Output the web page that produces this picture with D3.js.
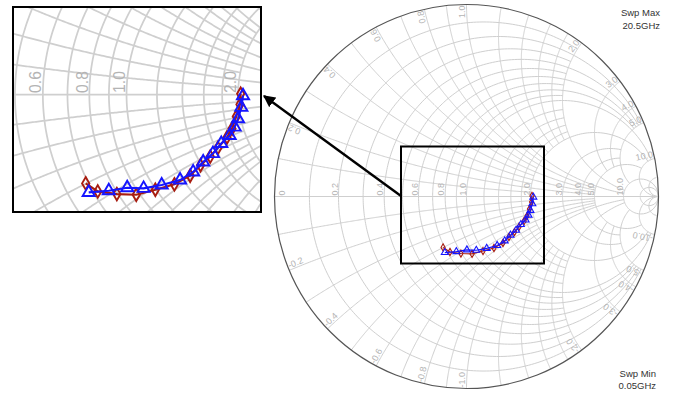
<!DOCTYPE html>
<html>
<head>
<meta charset="utf-8">
<script src="https://cdn.jsdelivr.net/npm/d3@7"></script>
<style>
  body { margin: 0; background: #fff; }
  text { font-family: "Liberation Sans", Arial, sans-serif; }
</style>
</head>
<body>
<svg id="chart" width="684" height="394"></svg>
<script>
// grid lines: [value, limit of the other coordinate]
const resistanceGrid = [[0.1, 2], [0.2, 5], [0.3, 2], [0.4, 5], [0.5, 2], [0.6, 5], [0.7, 2], [0.8, 5], [0.9, 2],
    [1, 10], [1.2, 2], [1.4, 2], [1.6, 2], [1.8, 2], [2, 10], [3, 5], [4, 5], [5, 10], [10, Infinity], [20, Infinity]];
const reactanceGrid = [[0.1, 2], [0.2, 5], [0.3, 2], [0.4, 5], [0.5, 2], [0.6, 5], [0.7, 2], [0.8, 5], [0.9, 2],
    [1, 10], [1.2, 2], [1.4, 2], [1.6, 2], [1.8, 2], [2, 10], [3, 5], [4, 5], [5, 10], [10, Infinity], [20, Infinity]];
const resistanceLabels = [0, 0.2, 0.4, 0.6, 0.8, 1, 2, 3, 4, 5, 10];
const reactanceLabels = [0.2, 0.4, 0.6, 0.8, 1, 2, 3, 4, 5, 10];

// reflection coefficient of the two traces
const blueRe = [-0.113, -0.053, 0.002, 0.051, 0.105, 0.160, 0.199, 0.229, 0.258, 0.283, 0.308, 0.323, 0.333, 0.343, 0.348];
const blueIm = [-0.292, -0.287, -0.278, -0.280, -0.270, -0.255, -0.231, -0.201, -0.176, -0.146, -0.122, -0.097, -0.072, -0.038, -0.003];
const redRe = [-0.122, -0.086, -0.029, 0.029, 0.086, 0.143, 0.190, 0.221, 0.250, 0.273, 0.300, 0.315, 0.328, 0.339, 0.341];
const redIm = [-0.265, -0.289, -0.297, -0.299, -0.284, -0.268, -0.242, -0.211, -0.185, -0.159, -0.128, -0.102, -0.065, -0.029, 0.003];

const sweepMax = ["Swp Max", "20.5GHz"];
const sweepMin = ["Swp Min", "0.05GHz"];

const cx = 466.5, cy = 196.5, R = 192;
const sx = d3.scaleLinear().domain([-1, 1]).range([cx - R, cx + R]);
const sy = d3.scaleLinear().domain([-1, 1]).range([cy + R, cy - R]);

// zoom box on the chart and where it is shown
const box = { x0: 401, y0: 146.5, x1: 544, y1: 263.5 };
const inset = { x0: 13, y0: 7, x1: 261, y1: 212 };

const svg = d3.select("#chart");

function gamma(r, x) {
    const den = (r + 1) * (r + 1) + x * x;
    return [(r * r - 1 + x * x) / den, 2 * x / den];
}

const line = d3.line().x(d => sx(d[0])).y(d => sy(d[1]));
const N = 240;

function drawChart(g) {
    const grid = g.append("g")
        .attr("fill", "none")
        .attr("stroke", "#cfcfcf")
        .attr("stroke-width", 1);

    resistanceGrid.forEach(([r, xmax]) => {
        const a = Math.atan(xmax);
        const pts = d3.range(N + 1).map(i => gamma(r, Math.tan(-a + 2 * a * i / N)));
        grid.append("path").attr("d", line(pts));
    });
    reactanceGrid.forEach(([x, rmax]) => {
        const a = Math.atan(rmax);
        [1, -1].forEach(s => {
            const pts = d3.range(N + 1).map(i => gamma(Math.tan(a * i / N), s * x));
            grid.append("path").attr("d", line(pts));
        });
    });
    // real axis
    grid.append("path").attr("d", line([[-1, 0], [1, 0]]));

    // outer circle
    g.append("circle")
        .attr("cx", sx(0)).attr("cy", sy(0))
        .attr("r", sx(1) - sx(0))
        .attr("fill", "none")
        .attr("stroke", "#555")
        .attr("stroke-width", 1.2);

    const labels = g.append("g")
        .attr("font-size", 9)
        .attr("fill", "#b4b4b4");

    resistanceLabels.forEach(r => {
        const px = r === 0 ? sx(-1) + 10 : sx((r - 1) / (r + 1)) - 1;
        labels.append("text")
            .attr("transform", `translate(${px},${sy(0) - 1}) rotate(-90)`)
            .text(r === 0 ? "0" : r.toFixed(1));
    });

    reactanceLabels.forEach(x => {
        [1, -1].forEach(s => {
            const p = gamma(0, s * x);
            const ang = Math.atan2(-p[1], p[0]) * 180 / Math.PI;
            const px = sx(p[0] * 0.995), py = sy(p[1] * 0.995);
            labels.append("text")
                .attr("transform", `translate(${px},${py}) rotate(${s > 0 ? ang : ang + 180})`)
                .attr("text-anchor", s > 0 ? "end" : "start")
                .attr("y", -1.5)
                .text((s < 0 ? "-" : "") + x.toFixed(1));
        });
    });

    // traces
    const traces = [
        { re: redRe, im: redIm, color: "#a81c10", symbol: d3.symbolDiamond, size: 15 },
        { re: blueRe, im: blueIm, color: "#1515ff", symbol: d3.symbolTriangle, size: 21 }
    ];
    traces.forEach(t => {
        const pts = t.re.map((v, i) => [v, t.im[i]]);
        g.append("path")
            .attr("d", line(pts))
            .attr("fill", "none")
            .attr("stroke", t.color)
            .attr("stroke-width", 1.2);
        g.append("g").selectAll("path")
            .data(pts)
            .join("path")
            .attr("transform", d => `translate(${sx(d[0])},${sy(d[1])})`)
            .attr("d", d3.symbol(t.symbol, t.size))
            .attr("fill", "none")
            .attr("stroke", t.color)
            .attr("stroke-width", 1.1);
    });
}

// main chart
drawChart(svg.append("g"));

// sweep annotations
svg.append("g").attr("font-size", 9.5).attr("fill", "#333").attr("text-anchor", "end")
    .selectAll("text").data(sweepMax).join("text")
    .attr("x", 660).attr("y", (d, i) => 15.5 + i * 13).text(d => d);
svg.append("g").attr("font-size", 9.5).attr("fill", "#333").attr("text-anchor", "end")
    .selectAll("text").data(sweepMin).join("text")
    .attr("x", 656).attr("y", (d, i) => 377 + i * 11.5).text(d => d);

// zoom box on the chart
svg.append("rect")
    .attr("x", box.x0).attr("y", box.y0)
    .attr("width", box.x1 - box.x0).attr("height", box.y1 - box.y0)
    .attr("fill", "none").attr("stroke", "#000").attr("stroke-width", 2);

// magnified inset
const k = ((inset.x1 - inset.x0) / (box.x1 - box.x0) + (inset.y1 - inset.y0) / (box.y1 - box.y0)) / 2;
svg.append("clipPath").attr("id", "insetClip")
    .append("rect")
    .attr("x", inset.x0).attr("y", inset.y0)
    .attr("width", inset.x1 - inset.x0).attr("height", inset.y1 - inset.y0);
const insetG = svg.append("g").attr("clip-path", "url(#insetClip)");
insetG.append("rect")
    .attr("x", inset.x0).attr("y", inset.y0)
    .attr("width", inset.x1 - inset.x0).attr("height", inset.y1 - inset.y0)
    .attr("fill", "#fff");
drawChart(insetG.append("g")
    .attr("transform", `translate(${(inset.x0 + inset.x1) / 2},${(inset.y0 + inset.y1) / 2}) scale(${k}) translate(${-(box.x0 + box.x1) / 2},${-(box.y0 + box.y1) / 2})`));
svg.append("rect")
    .attr("x", inset.x0).attr("y", inset.y0)
    .attr("width", inset.x1 - inset.x0).attr("height", inset.y1 - inset.y0)
    .attr("fill", "none").attr("stroke", "#000").attr("stroke-width", 2);

// arrow from the box to the inset
svg.append("defs").append("marker")
    .attr("id", "head")
    .attr("viewBox", "0 0 10 10")
    .attr("refX", 9).attr("refY", 5)
    .attr("markerWidth", 5).attr("markerHeight", 5)
    .attr("orient", "auto")
    .append("path").attr("d", "M0,0L10,5L0,10Z").attr("fill", "#000");
svg.append("line")
    .attr("x1", box.x0).attr("y1", 196)
    .attr("x2", 264).attr("y2", 96)
    .attr("stroke", "#000").attr("stroke-width", 2.4)
    .attr("marker-end", "url(#head)");
</script>
</body>
</html>
